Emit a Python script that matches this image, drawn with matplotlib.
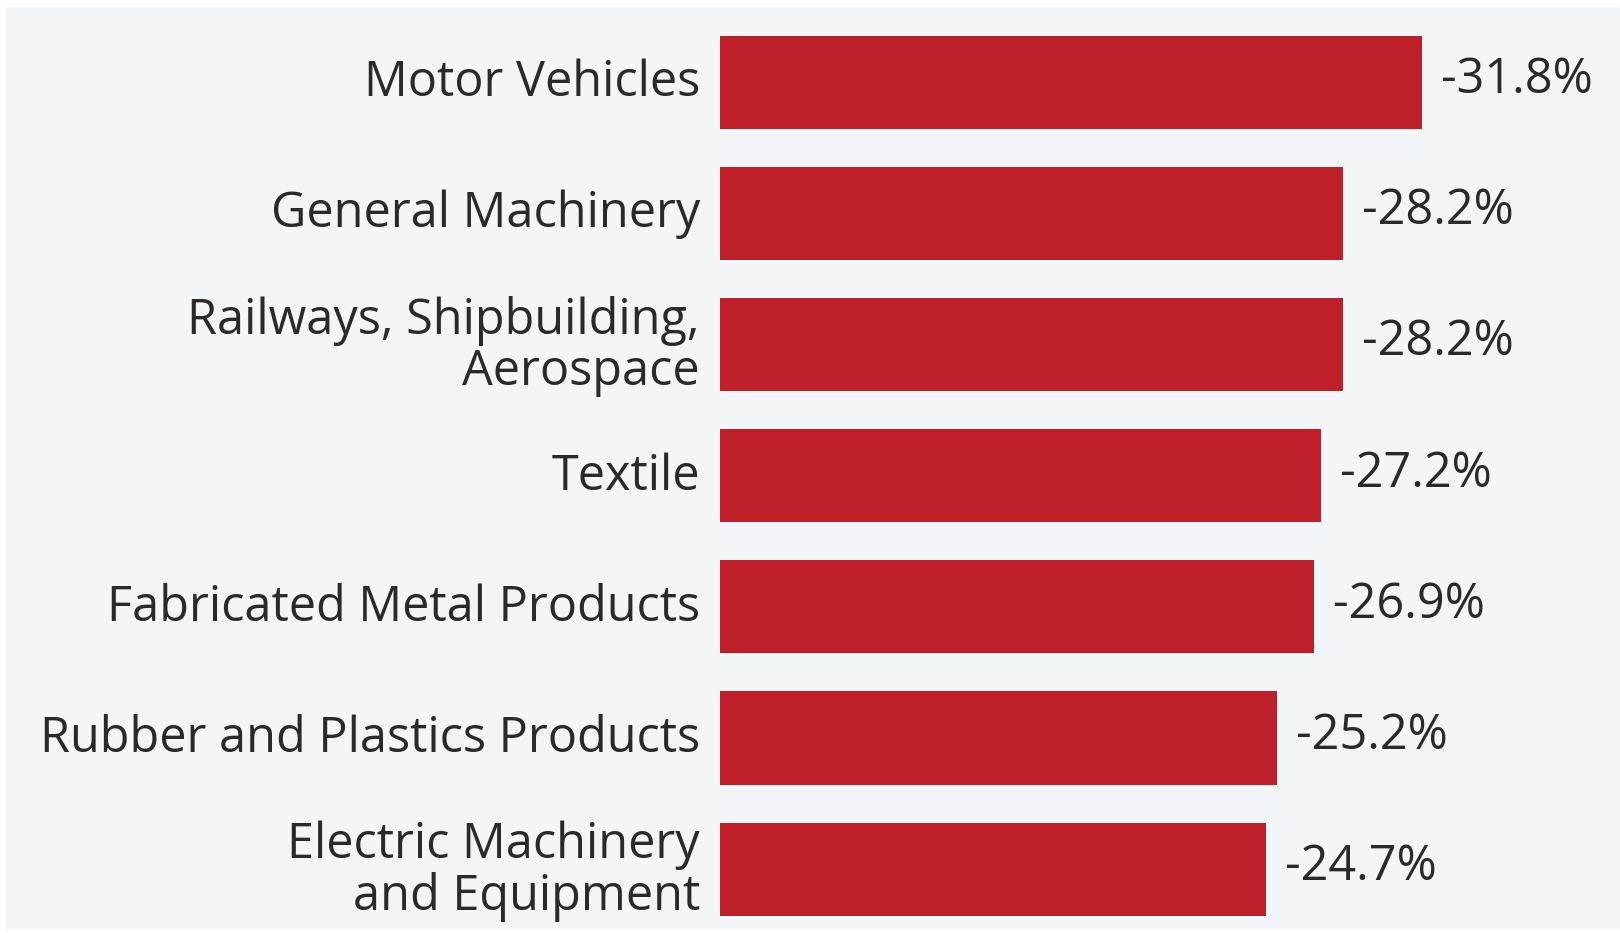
import matplotlib
matplotlib.use("Agg")
import matplotlib.pyplot as plt
import matplotlib.transforms as mtransforms
from matplotlib.patches import Rectangle

# industries and change in output (%)
industries = [
    "Motor Vehicles",
    "General Machinery",
    "Railways, Shipbuilding,\nAerospace",
    "Textile",
    "Fabricated Metal Products",
    "Rubber and Plastics Products",
    "Electric Machinery\nand Equipment",
]
change = [-31.8, -28.2, -28.2, -27.2, -26.9, -25.2, -24.7]

bar_color = "#BE1F28"
bg_color = "#F3F6F9"
text_color = "#2A2A2A"
font = ["Open Sans", "DejaVu Sans"]
fsize = 35

W, H = 1620, 933
fig = plt.figure(figsize=(W / 100, H / 100), dpi=100, facecolor="white")
# light panel behind the chart
fig.patches.append(Rectangle((6 / W, 3 / H), 1 - 6 / W, (H - 10) / H,
                             transform=fig.transFigure, facecolor=bg_color,
                             edgecolor="none", zorder=-10))

# axes placed in pixel terms
left, top, bottom = 720, 17, 933
ax = fig.add_axes([left / W, (H - bottom) / H, (W - left) / W, (bottom - top) / H])
ax.set_facecolor("none")
ax.set_zorder(5)

pitch = 131.1
first_center = 82.5
y_top = -(first_center - top) / pitch
y_bot = (bottom - first_center) / pitch
ax.set_ylim(y_bot, y_top)
px_per_unit = 22.09
ax.set_xlim(0, (W - left) / px_per_unit)

ypos = list(range(len(industries)))
mags = [abs(v) for v in change]
ax.barh(ypos, mags, height=0.71, color=bar_color, zorder=2)

# texts sit slightly above the bar centres
lift = mtransforms.ScaledTranslation(0, 5 / 100, fig.dpi_scale_trans)
lift_val = mtransforms.ScaledTranslation(0, 2 / 100, fig.dpi_scale_trans)

for y, m, v in zip(ypos, mags, change):
    ax.text(m + 19 / px_per_unit, y, f"{v:.1f}%", va="center", ha="left",
            fontsize=fsize, color=text_color, family=font,
            transform=ax.transData + lift_val)

ax.set_yticks(ypos)
ax.set_yticklabels(industries, fontsize=fsize, color=text_color, family=font,
                   linespacing=1.05)
ax.tick_params(axis="y", length=0, pad=14.5)
for lab in ax.get_yticklabels():
    lab.set_transform(lab.get_transform() + lift)
ax.set_xticks([])
for s in ax.spines.values():
    s.set_visible(False)

fig.savefig("out.png", dpi=100, facecolor=fig.get_facecolor())
